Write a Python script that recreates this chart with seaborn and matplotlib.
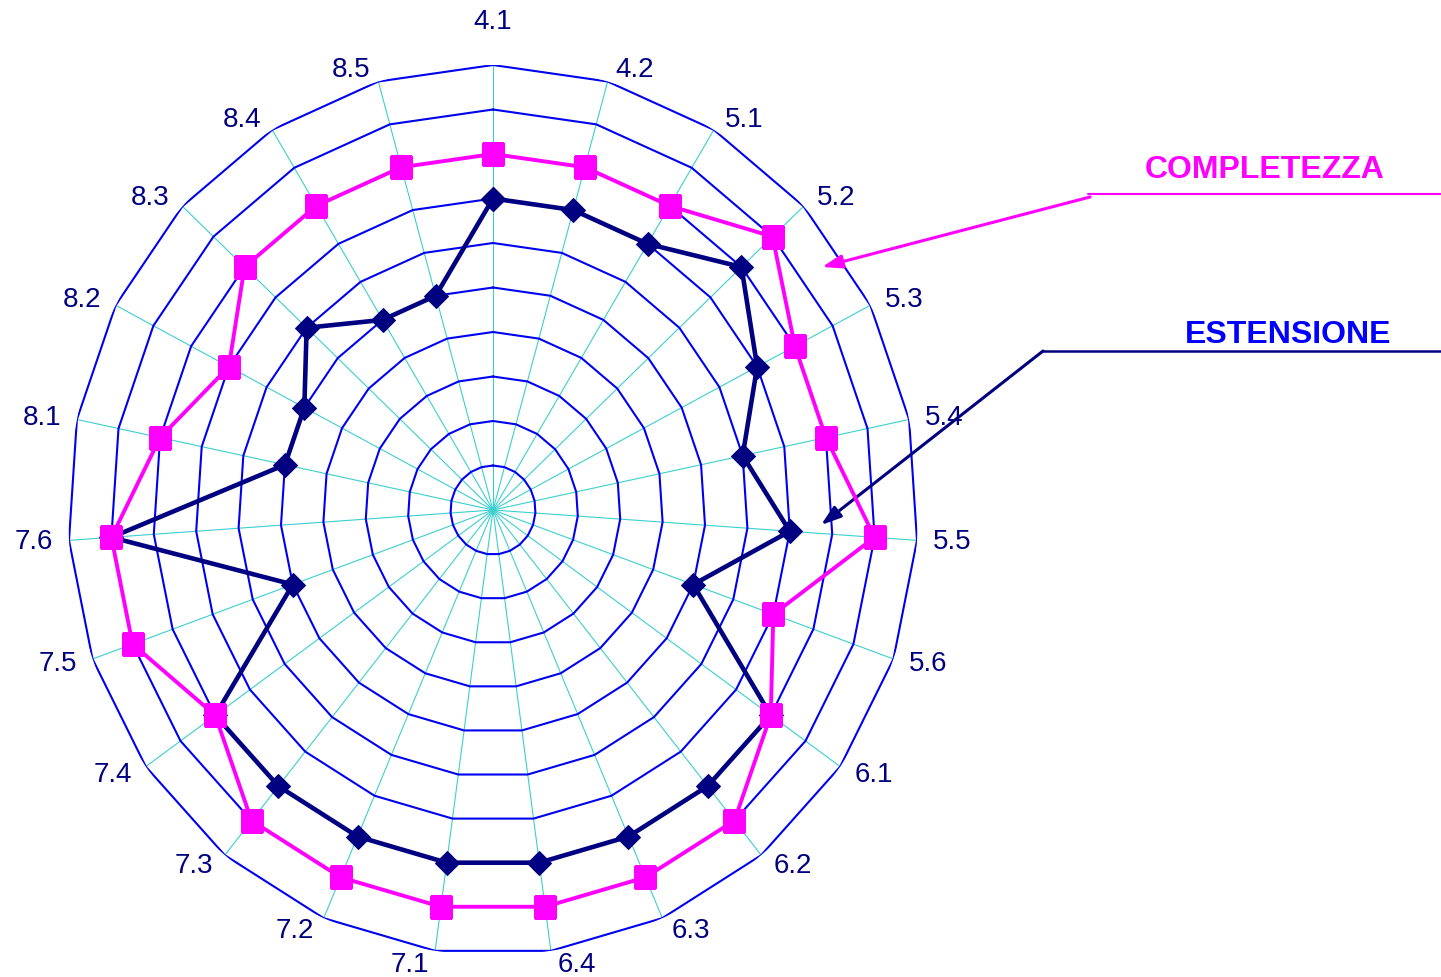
import numpy as np
import matplotlib
matplotlib.use("Agg")
import matplotlib.pyplot as plt
import seaborn as sns
from matplotlib.lines import Line2D

# Radar data: scores on a 0-10 scale for each requirement section
categories = ["4.1", "4.2", "5.1", "5.2", "5.3", "5.4", "5.5", "5.6",
              "6.1", "6.2", "6.3", "6.4", "7.1", "7.2", "7.3", "7.4",
              "7.5", "7.6", "8.1", "8.2", "8.3", "8.4", "8.5"]
completezza = [8, 8, 8, 9, 8, 8, 9, 7, 8, 9, 9, 9, 9, 9, 9, 8, 9, 9, 8, 7, 8, 8, 8]
estensione = [7, 7, 7, 8, 7, 6, 7, 5, 8, 8, 8, 8, 8, 8, 8, 8, 5, 9, 5, 5, 6, 5, 5]
ring_levels = list(range(1, 11))
series_names = ["COMPLETEZZA", "ESTENSIONE"]

MAGENTA = "#FF00FF"
NAVY = "#000080"
RING = "#0000F0"
SPOKE = "#3CCFCF"

sns.set_theme(style="white")
plt.rcParams["font.family"] = ["Liberation Sans", "DejaVu Sans"]

W, H = 1441, 978
fig = plt.figure(figsize=(W / 100, H / 100), dpi=100)
fig.patch.set_facecolor("white")

# polar axes stretched slightly taller than wide
cx, cy, rx, ry = 493, 511, 425, 445
ax = fig.add_axes([(cx - rx) / W, (H - cy - ry) / H, 2 * rx / W, 2 * ry / H],
                  projection="polar")
ax.set_aspect("auto")
ax.set_theta_zero_location("N")
ax.set_theta_direction(-1)
ax.set_ylim(0, 10)
ax.grid(False)
ax.set_xticks([])
ax.set_yticks([])
for sp in ax.spines.values():
    sp.set_visible(False)
ax.set_facecolor("none")

n = len(categories)
theta = np.arange(n) * 2 * np.pi / n
theta_closed = np.append(theta, 2 * np.pi)

# spokes
for t in theta:
    ax.plot([t, t], [0, ring_levels[-1]], color=SPOKE, lw=0.8, zorder=1)
# polygonal rings
for lvl in ring_levels:
    ax.plot(theta_closed, [lvl] * (n + 1), color=RING, lw=1.5, zorder=2)

def close(vals):
    return np.append(vals, vals[0])

sns.lineplot(x=theta_closed, y=close(estensione), ax=ax, sort=False,
             estimator=None, color=NAVY, lw=3.3, marker="D", markersize=12,
             markeredgecolor=NAVY, markerfacecolor=NAVY, zorder=4)
sns.lineplot(x=theta_closed, y=close(completezza), ax=ax, sort=False,
             estimator=None, color=MAGENTA, lw=2.8, marker="s", markersize=16,
             markeredgecolor=MAGENTA, markerfacecolor=MAGENTA, zorder=5)
ax.set_xlabel("")
ax.set_ylabel("")
ax.set_ylim(0, 10)

# category labels just outside the outer ring, aligned away from the centre
pt = 0.72
for i, (t, lab) in enumerate(zip(theta, categories)):
    s, c = np.sin(t), np.cos(t)
    if i == 0:
        ha, ox, oy = "center", 0.0, 44.0
    else:
        ha = "left" if s > 0 else "right"
        ox = np.sign(s) * (5 + 11 * abs(s))
        oy = 13 * c
    ax.annotate(lab, xy=(t, ring_levels[-1]), xytext=(ox * pt, oy * pt),
                textcoords="offset points", ha=ha, va="center",
                fontsize=20, color=NAVY, annotation_clip=False)

def fxy(x, y):
    return (x / W, 1 - y / H)

# series captions with leader lines and arrows
fig.text(*fxy(1265, 170), series_names[0], color=MAGENTA, fontsize=23,
         fontweight="bold", ha="center", va="center")
fig.text(*fxy(1288, 335), series_names[1], color="#0000FF", fontsize=23,
         fontweight="bold", ha="center", va="center")

for (x0, y0), (x1, y1), col, lw in [((1088, 195), (1441, 195), MAGENTA, 1.5),
                                    ((1043, 352), (1441, 352), NAVY, 1.8)]:
    (fx0, fy0), (fx1, fy1) = fxy(x0, y0), fxy(x1, y1)
    fig.add_artist(Line2D([fx0, fx1], [fy0, fy1], color=col, lw=lw,
                          transform=fig.transFigure))

for start, tip, col in [((1090, 198), (822, 268), MAGENTA),
                        ((1043, 352), (821, 526), NAVY)]:
    ax.annotate("", xy=fxy(*tip), xycoords="figure fraction",
                xytext=fxy(*start), textcoords="figure fraction",
                arrowprops=dict(arrowstyle="-|>,head_length=0.6,head_width=0.2",
                                color=col, lw=2.2, mutation_scale=20,
                                shrinkA=0, shrinkB=0),
                annotation_clip=False)

fig.savefig("out.png", dpi=100, facecolor="white")
